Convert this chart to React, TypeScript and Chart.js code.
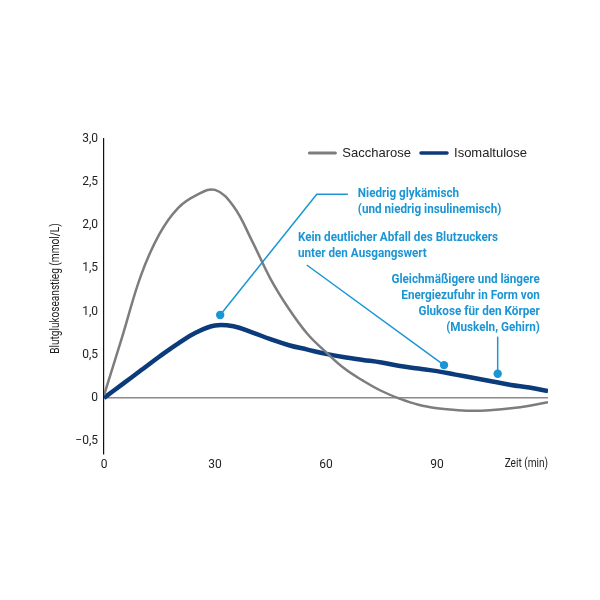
import React, { useEffect, useRef } from 'react';
import { Chart, registerables } from 'chart.js';

Chart.register(...registerables);

const minutes = [0, 5, 10, 15, 20, 25, 30, 35, 40, 45, 50, 55, 60, 65, 70, 75, 80, 85, 90, 95, 100, 105, 110, 115, 120];
const saccharose = [0.03, 0.72, 1.42, 1.9, 2.2, 2.35, 2.41, 2.22, 1.82, 1.38, 1.03, 0.74, 0.53, 0.34, 0.2, 0.08, -0.01, -0.08, -0.12, -0.14, -0.15, -0.14, -0.12, -0.09, -0.05];
const isomaltulose = [0, 0.16, 0.32, 0.48, 0.63, 0.76, 0.84, 0.83, 0.76, 0.68, 0.61, 0.56, 0.51, 0.47, 0.44, 0.41, 0.37, 0.34, 0.31, 0.27, 0.23, 0.19, 0.15, 0.12, 0.08];
const seriesNames = ['Saccharose', 'Isomaltulose'];
const xTickValues = [0, 30, 60, 90];
const xAxisLabel = 'Zeit (min)';
const yAxisLabel = 'Blutglukoseanstieg (mmol/L)';

// annotations in data units (minutes, mmol/L)
const note1Lines = ['Niedrig glykämisch', '(und niedrig insulinemisch)'];
const note1Path = [[31.4, 0.96], [57.5, 2.36], [65.9, 2.36]];
const note1Text = [68.6, 2.36];
const note2Lines = ['Kein deutlicher Abfall des Blutzuckers', 'unter den Ausgangswert'];
const note2Path = [[91.9, 0.38], [54.8, 1.54]];
const note2Text = [52.4, 1.85];
const note3Lines = ['Gleichmäßigere und längere', 'Energiezufuhr in Form von', 'Glukose für den Körper', '(Muskeln, Gehirn)'];
const note3Path = [[106.4, 0.28], [106.4, 0.71]];
const note3Text = [117.8, 1.37];

const FONT = "Roboto, 'Liberation Sans', sans-serif";
const GRAY = '#7d7d7d';
const NAVY = '#0c3b7c';
const CYAN = '#1b95d3';
const NOTE_SQUEEZE = 0.9;
const LABEL_SQUEEZE = 0.84;

const fmtY = (v: number) => {
  if (Math.abs(v) < 1e-9) return '0';
  const s = Math.abs(v).toFixed(1).replace('.', ',');
  return v < 0 ? '\u2212' + s : s;
};

const overlay = {
  id: 'overlay',
  afterDatasetsDraw(chart: any) {
    const { ctx, chartArea } = chart;
    const xs = chart.scales.x;
    const ys = chart.scales.y;
    const px = (p: number[]) => [xs.getPixelForValue(p[0]), ys.getPixelForValue(p[1])];
    ctx.save();
    const drawPath = (path: number[][]) => {
      ctx.strokeStyle = CYAN;
      ctx.lineWidth = 1.5;
      ctx.beginPath();
      path.forEach((p, i) => {
        const [x, y] = px(p);
        if (i === 0) ctx.moveTo(x, y);
        else ctx.lineTo(x, y);
      });
      ctx.stroke();
      const [dx, dy] = px(path[0]);
      ctx.fillStyle = CYAN;
      ctx.beginPath();
      ctx.arc(dx, dy, 4.2, 0, Math.PI * 2);
      ctx.fill();
    };
    drawPath(note1Path);
    drawPath(note2Path);
    drawPath(note3Path);

    ctx.fillStyle = CYAN;
    ctx.font = `bold 13px ${FONT}`;
    ctx.textBaseline = 'middle';
    const drawText = (lines: string[], pos: number[], align: CanvasTextAlign) => {
      const [x, y] = px(pos);
      ctx.save();
      ctx.translate(x, y);
      ctx.scale(NOTE_SQUEEZE, 1);
      ctx.textAlign = align;
      lines.forEach((l, i) => ctx.fillText(l, 0, i * 16));
      ctx.restore();
    };
    drawText(note1Lines, note1Text, 'left');
    drawText(note2Lines, note2Text, 'left');
    drawText(note3Lines, note3Text, 'right');

    // x axis end label
    ctx.fillStyle = '#222';
    ctx.font = `12px ${FONT}`;
    ctx.textBaseline = 'middle';
    ctx.save();
    ctx.translate(chartArea.right, chartArea.bottom + 10);
    ctx.scale(LABEL_SQUEEZE, 1);
    ctx.textAlign = 'right';
    ctx.fillText(xAxisLabel, 0, 0);
    ctx.restore();

    // y axis title
    ctx.save();
    ctx.translate(56, (chartArea.top + chartArea.bottom) / 2 - 8);
    ctx.rotate(-Math.PI / 2);
    ctx.scale(LABEL_SQUEEZE, 1);
    ctx.textAlign = 'center';
    ctx.fillText(yAxisLabel, 0, 0);
    ctx.restore();

    // legend
    ctx.font = `13px 'Liberation Sans', Arial, sans-serif`;
    ctx.textBaseline = 'middle';
    ctx.textAlign = 'left';
    const ly = 153;
    const items = chart.data.datasets.map((d: any) => ({ label: d.label, color: d.borderColor, w: d.borderWidth }));
    let right = 527;
    const positions: any[] = [];
    for (let i = items.length - 1; i >= 0; i--) {
      const tw = ctx.measureText(items[i].label).width;
      const textX = right - tw;
      const lineEnd = textX - 7;
      const lineStart = lineEnd - 26;
      positions.unshift({ ...items[i], textX, lineStart, lineEnd });
      right = lineStart - 10;
    }
    positions.forEach((p) => {
      ctx.strokeStyle = p.color;
      ctx.lineWidth = p.w > 3 ? 3.5 : 3;
      ctx.lineCap = 'round';
      ctx.beginPath();
      ctx.moveTo(p.lineStart, ly);
      ctx.lineTo(p.lineEnd, ly);
      ctx.stroke();
      ctx.fillStyle = '#222';
      ctx.fillText(p.label, p.textX, ly + 0.5);
    });
    ctx.restore();
  },
};

export default function App() {
  const ref = useRef<HTMLCanvasElement>(null);
  useEffect(() => {
    if (!ref.current) return;
    const chart = new Chart(ref.current, {
      type: 'line',
      data: {
        datasets: [
          {
            label: seriesNames[0],
            data: minutes.map((m, i) => ({ x: m, y: saccharose[i] })),
            borderColor: GRAY,
            borderWidth: 2.5,
            pointRadius: 0,
            tension: 0.4,
            fill: false,
          },
          {
            label: seriesNames[1],
            data: minutes.map((m, i) => ({ x: m, y: isomaltulose[i] })),
            borderColor: NAVY,
            borderWidth: 4.5,
            pointRadius: 0,
            tension: 0.4,
            fill: false,
          },
        ],
      },
      options: {
        animation: false,
        responsive: false,
        maintainAspectRatio: false,
        layout: { padding: { left: 40, top: 139, right: 52, bottom: 0 } },
        plugins: { legend: { display: false }, tooltip: { enabled: false } },
        scales: {
          x: {
            type: 'linear',
            min: 0,
            max: 120,
            afterFit: (s: any) => { s.height = 146; },
            afterBuildTicks: (s: any) => { s.ticks = xTickValues.map((v) => ({ value: v })); },
            grid: { display: false, drawTicks: false },
            border: { display: false },
            ticks: {
              padding: 4,
              color: '#222',
              font: { family: FONT, size: 12 },
              callback: (v: any) => String(v),
              maxRotation: 0,
            },
          },
          y: {
            type: 'linear',
            min: -0.65,
            max: 3,
            afterFit: (s: any) => { s.width = 64; },
            grid: {
              drawTicks: false,
              color: (c: any) => (c.tick && Math.abs(c.tick.value) < 1e-9 ? '#8a8a8a' : 'rgba(0,0,0,0)'),
              lineWidth: 1.5,
            },
            border: { display: true, color: '#111', width: 1.2 },
            ticks: {
              stepSize: 0.5,
              includeBounds: false,
              padding: 6,
              color: '#222',
              font: { family: FONT, size: 12 },
              callback: (v: any) => fmtY(Number(v)),
            },
            title: { display: false },
          },
        },
      },
      plugins: [overlay],
    } as any);
    return () => chart.destroy();
  }, []);
  return (
    <div style={{ position: 'fixed', left: 0, top: 0, width: 600, height: 600, background: '#fff' }}>
      <canvas ref={ref} width={600} height={600} style={{ width: 600, height: 600 }} />
    </div>
  );
}
